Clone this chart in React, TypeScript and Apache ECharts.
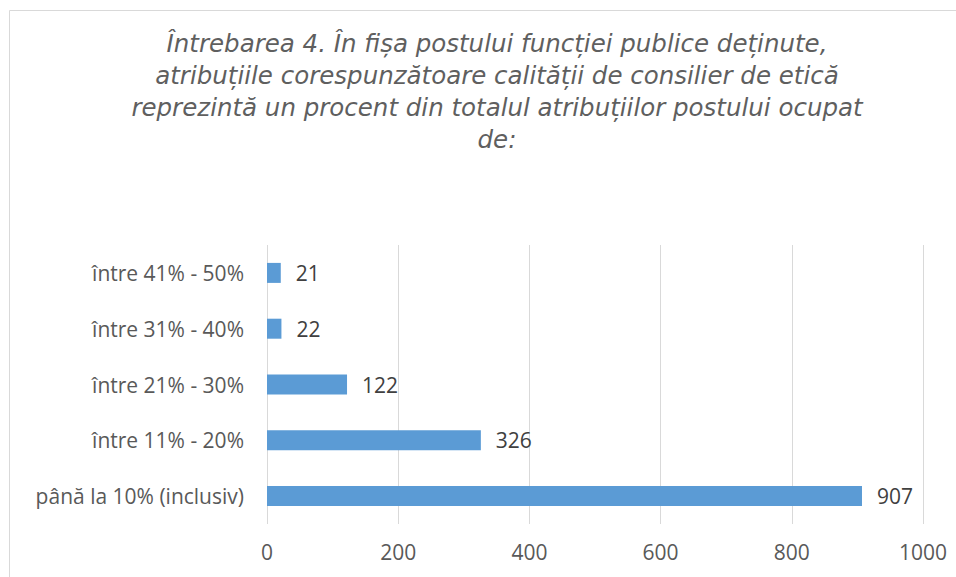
import React, { useEffect, useRef } from "react";
import * as echarts from "echarts";

const titleLines = [
  "Întrebarea 4. În fișa postului funcției publice deținute,",
  "atribuțiile corespunzătoare calității de consilier de etică",
  "reprezintă un procent din totalul atribuțiilor postului ocupat",
  "de:",
];
const categories = [
  "până la 10% (inclusiv)",
  "între 11% - 20%",
  "între 21% - 30%",
  "între 31% - 40%",
  "între 41% - 50%",
];
const values = [907, 326, 122, 22, 21];

const FONT = "Open Sans";

export default function App() {
  const ref = useRef<HTMLDivElement>(null);
  useEffect(() => {
    if (!ref.current) return;
    const chart = echarts.init(ref.current, null, { renderer: "svg" });
    chart.setOption({
      animation: false,
      backgroundColor: "#ffffff",
      title: {
        text: titleLines.join("\n"),
        left: 492,
        top: 22,
        textAlign: "center",
        textStyle: {
          fontFamily: "DejaVu Sans",
          fontStyle: "italic",
          fontWeight: "normal",
          fontSize: 24.5,
          lineHeight: 32,
          color: "#5f5f5f",
        },
      },
      graphic: [
        {
          type: "rect",
          shape: { x: 9.5, y: 10.5, width: 1000, height: 700 },
          style: { fill: "none", stroke: "#d9d9d9", lineWidth: 1 },
          silent: true,
          z: -1,
        },
      ],
      grid: { left: 267, right: 33, top: 245, bottom: 53, containLabel: false },
      xAxis: {
        type: "value",
        min: 0,
        max: 1000,
        interval: 200,
        axisLine: { show: false },
        axisTick: { show: false },
        axisLabel: {
          color: "#595959",
          fontFamily: FONT,
          fontSize: 21,
          margin: 17,
          formatter: (v: number) => String(v),
        },
        splitLine: { show: true, lineStyle: { color: "#d9d9d9", width: 1 } },
      },
      yAxis: {
        type: "category",
        data: categories,
        axisLine: { show: false },
        axisTick: { show: false },
        axisLabel: {
          color: "#595959",
          fontFamily: FONT,
          fontSize: 21,
          margin: 23,
        },
      },
      series: [
        {
          type: "bar",
          data: values,
          barWidth: 20,
          itemStyle: { color: "#5b9bd5" },
          label: {
            show: true,
            position: "right",
            distance: 15,
            color: "#404040",
            fontFamily: FONT,
            fontSize: 21,
          },
        },
      ],
    });
    return () => chart.dispose();
  }, []);
  return (
    <div
      ref={ref}
      style={{ position: "fixed", left: 0, top: 0, width: 956, height: 577 }}
    />
  );
}
